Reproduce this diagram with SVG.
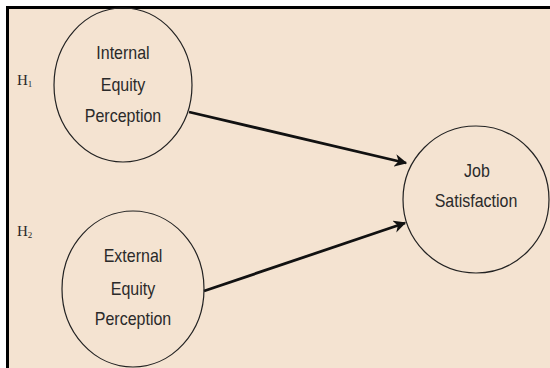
<svg xmlns="http://www.w3.org/2000/svg" width="550" height="368" viewBox="0 0 550 368">
<style>
.bg{fill:#f4e3d1}
.node{fill:none;stroke:#222;stroke-width:1.2}
.lbl{font-family:"Liberation Sans",Arial,sans-serif;font-size:16px;fill:#2a2a2a;text-anchor:middle}
.h{font-family:"Liberation Serif","Times New Roman",serif;font-size:15px;fill:#2a2a2a}
.sub{font-size:9px}
.conn{stroke:#111;stroke-width:2.8;fill:none}
</style>
<defs>
<marker id="arr" viewBox="0 0 10 10" refX="9" refY="5" markerWidth="4.5" markerHeight="4.5" orient="auto" markerUnits="strokeWidth">
<path d="M0,0 L10,5 L0,10 L3,5 Z" fill="#111"/>
</marker>
</defs>
<rect x="0" y="0" width="550" height="368" fill="#fff"/>
<rect class="bg" x="8" y="8" width="542" height="360"/>
<path d="M7.5,368 V7.5 H550" fill="none" stroke="#000" stroke-width="3"/>
<text class="h" x="17" y="85">H<tspan class="sub" dy="2">1</tspan></text>
<text class="h" x="17" y="236">H<tspan class="sub" dy="2">2</tspan></text>
<g id="connectors">
<line class="conn" x1="189" y1="112" x2="406" y2="163" marker-end="url(#arr)"/>
<line class="conn" x1="204" y1="291" x2="405" y2="223" marker-end="url(#arr)"/>
</g>
<g id="internal">
<ellipse class="node" cx="123" cy="85" rx="69" ry="77"/>
<text class="lbl" transform="translate(123,59) scale(1,1.15)">Internal</text>
<text class="lbl" transform="translate(123,91) scale(1,1.15)">Equity</text>
<text class="lbl" transform="translate(123,122) scale(1,1.15)">Perception</text>
</g>
<g id="external">
<ellipse class="node" cx="133" cy="289" rx="71" ry="78"/>
<text class="lbl" transform="translate(133,262) scale(1,1.15)">External</text>
<text class="lbl" transform="translate(133,295) scale(1,1.15)">Equity</text>
<text class="lbl" transform="translate(133,325) scale(1,1.15)">Perception</text>
</g>
<g id="job">
<ellipse class="node" cx="476" cy="199.5" rx="73" ry="73.5"/>
<text class="lbl" transform="translate(477,177) scale(1,1.15)">Job</text>
<text class="lbl" transform="translate(476,207) scale(1,1.15)">Satisfaction</text>
</g>
</svg>
